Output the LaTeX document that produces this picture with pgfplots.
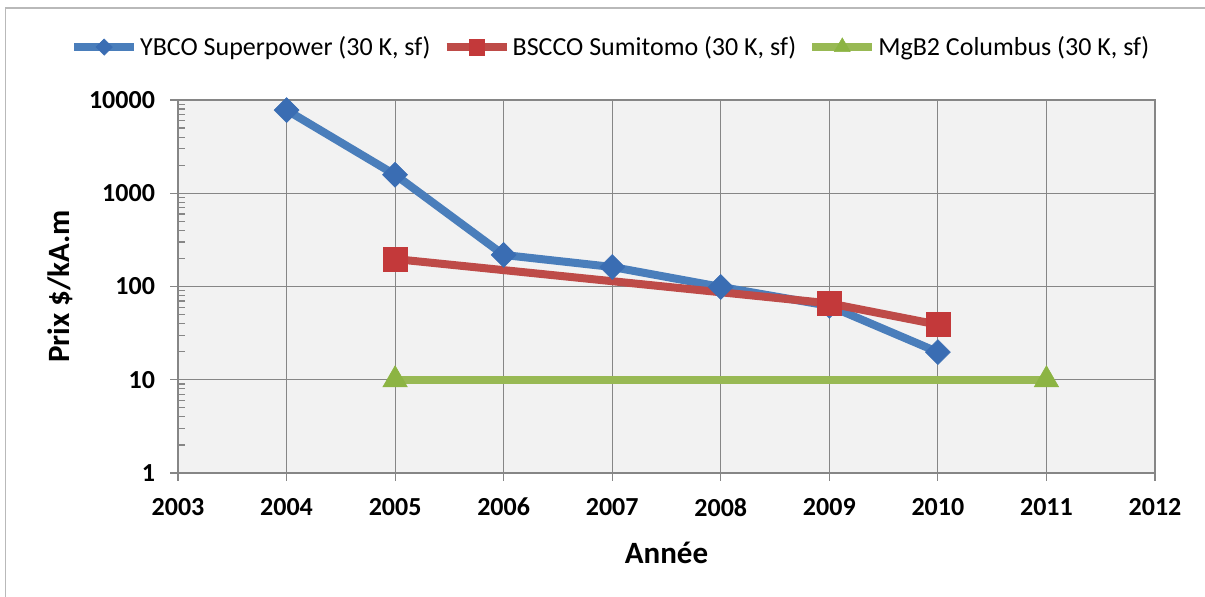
\documentclass[border=0pt]{standalone}
\usepackage{pgfplots}
\pgfplotsset{compat=1.18}
\usepackage{fontspec}
\setmainfont{Carlito}
\definecolor{ybco}{HTML}{4A7EBB}
\definecolor{ybcom}{HTML}{3A6DB3}
\definecolor{bscco}{HTML}{BE4B48}
\definecolor{bsccom}{HTML}{C3393A}
\definecolor{mgb}{HTML}{98B954}
\definecolor{mgbm}{HTML}{8CB443}
\definecolor{gridgray}{HTML}{868686}
\definecolor{plotbg}{HTML}{F2F2F2}
\begin{document}
\begin{tikzpicture}[x=1pt,y=1pt]
\useasboundingbox (0,0) rectangle (602.5,298);
\draw[gray!55, line width=0.8pt] (2.8,-20) -- (2.8,294) -- (640,294);
\begin{axis}[
  at={(89pt,61.5pt)}, anchor=south west,
  scale only axis, width=488.5pt, height=186.5pt,
  ymode=log, ymin=1, ymax=10000,
  xmin=2003, xmax=2012,
  xtick={2003,2004,2005,2006,2007,2008,2009,2010,2011,2012},
  xticklabels={2003,2004,2005,2006,2007,2008,2009,2010,2011,2012},
  ytick={1,10,100,1000,10000},
  yticklabels={1,10,100,1000,10000},
  xtick pos=bottom, ytick pos=left,
  grid=major, minor grid style={draw=none},
  major grid style={color=gridgray, line width=0.6pt},
  axis line style={gridgray, line width=0.6pt},
  axis background/.style={fill=plotbg},
  tick align=outside, major tick length=4pt, minor tick length=3.3pt,
  tick style={gridgray, line width=0.6pt},
  minor tick style={xshift=3.3pt},
  /pgf/number format/assume math mode=true,
  tick label style={font=\fontsize{13}{15}\selectfont\bfseries},
  yticklabel style={xshift=-4pt},
  xticklabel style={yshift=-5pt},
  every axis y label/.style={at={(axis description cs:-0.1208,0.5)}, rotate=90, anchor=center, font=\fontsize{15.5}{18}\selectfont\bfseries},
  every axis x label/.style={at={(axis description cs:0.5,-0.2145)}, anchor=center, font=\fontsize{15.5}{18}\selectfont\bfseries},
  xlabel={Année},
  ylabel={Prix \$/kA.m},
  legend columns=3,
  legend cell align=left,
  legend style={at={(axis description cs:0.443,1.142)}, anchor=center, draw=none, fill=none,
    font=\fontsize{13}{15}\selectfont, inner sep=0pt, nodes={inner xsep=1pt},
    /tikz/every even column/.append style={column sep=5pt},
    /tikz/every odd column/.append style={column sep=0pt}},
  legend image code/.code={\draw[mark repeat=2, mark phase=2, #1, every mark/.append style={scale=0.65}] plot coordinates {(0pt,0pt) (15pt,0pt) (30pt,0pt)};},
]
\addplot[color=ybco, line width=4pt, mark=square*, mark size=4.4pt,
  mark options={rotate=45, fill=ybcom, draw=ybcom, line width=0.3pt}]
  coordinates {(2004,7800) (2005,1580) (2006,218) (2007,162) (2008,99) (2009,62) (2010,19.8)};
\addlegendentry{YBCO Superpower (30 K, sf)}
\addplot[color=bscco, line width=4pt, mark=square*, mark size=6pt,
  mark options={fill=bsccom, draw=bsccom, line width=0.3pt}]
  coordinates {(2005,197) (2009,66) (2010,39)};
\addlegendentry{BSCCO Sumitomo (30 K, sf)}
\addplot[color=mgb, line width=4pt, mark=triangle*, mark size=7pt,
  mark options={fill=mgbm, draw=mgbm, line width=0.3pt}]
  coordinates {(2005,10) (2011,10)};
\addlegendentry{MgB2 Columbus (30 K, sf)}
\end{axis}
\end{tikzpicture}
\end{document}
